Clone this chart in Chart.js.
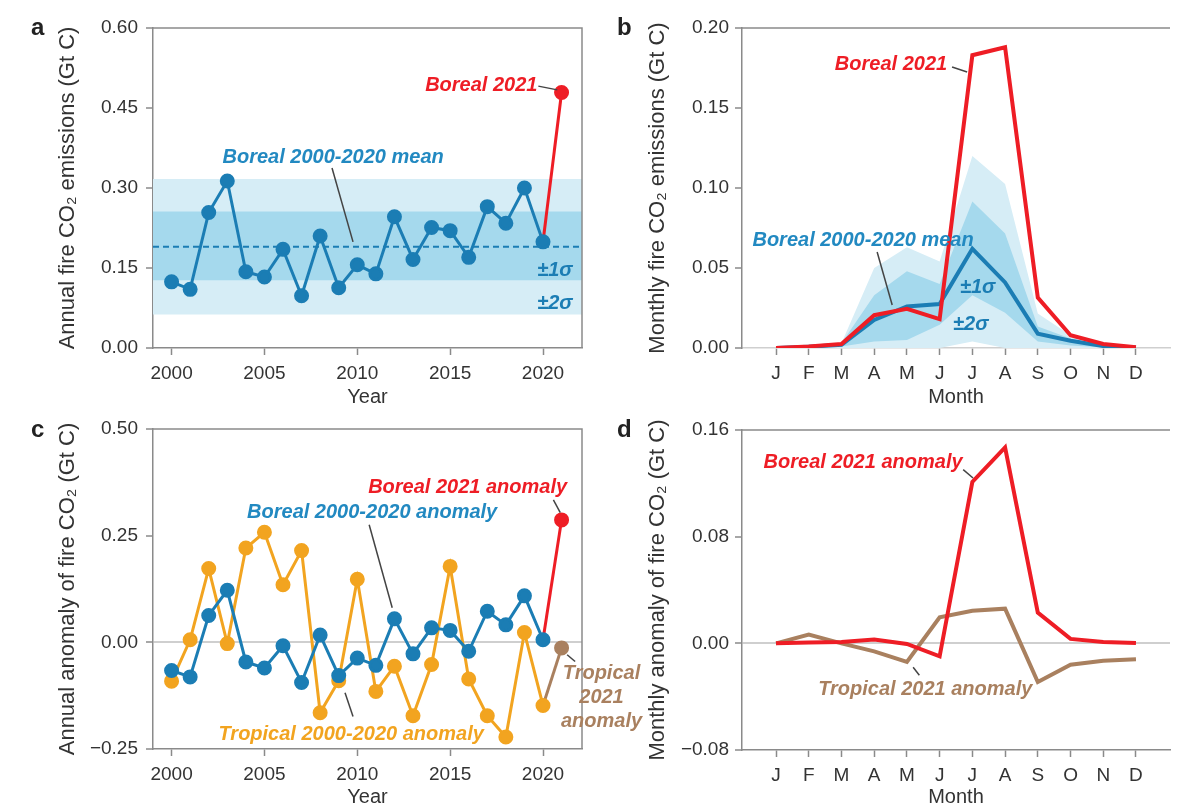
<!DOCTYPE html>
<html>
<head>
<meta charset="utf-8">
<script src="https://cdn.jsdelivr.net/npm/chart.js@4.4.0/dist/chart.umd.min.js"></script>
<style>
  html, body { margin: 0; background: #fff; overflow: hidden; width: 1182px; height: 808px; }
  canvas { position: absolute; }
</style>
</head>
<body>
<canvas id="chart-a" width="591" height="412" style="left:0;top:0"></canvas>
<canvas id="chart-b" width="591" height="412" style="left:591px;top:0"></canvas>
<canvas id="chart-d" width="591" height="416" style="left:591px;top:404px"></canvas>
<canvas id="chart-c" width="680" height="416" style="left:0;top:404px"></canvas>
<script>
// annual series (Gt C)
const years = [2000, 2001, 2002, 2003, 2004, 2005, 2006, 2007, 2008, 2009, 2010,
               2011, 2012, 2013, 2014, 2015, 2016, 2017, 2018, 2019, 2020];
const borealAnnual = [0.124, 0.110, 0.254, 0.313, 0.143, 0.133, 0.185, 0.098, 0.210, 0.113, 0.156,
                      0.139, 0.246, 0.166, 0.226, 0.220, 0.170, 0.265, 0.234, 0.300, 0.199];
const borealAnnual2021 = 0.479;
const borealMeanAnnual = 0.190;
const borealSigma1 = [0.127, 0.256];
const borealSigma2 = [0.063, 0.317];

const borealAnomaly = [-0.066, -0.081, 0.063, 0.122, -0.046, -0.060, -0.008, -0.094, 0.017, -0.078, -0.037,
                       -0.054, 0.055, -0.027, 0.034, 0.028, -0.021, 0.073, 0.041, 0.109, 0.006];
const borealAnomaly2021 = 0.287;
const tropicalAnomaly = [-0.091, 0.006, 0.173, -0.003, 0.221, 0.258, 0.135, 0.215, -0.165, -0.090, 0.148,
                         -0.115, -0.056, -0.172, -0.052, 0.178, -0.086, -0.172, -0.222, 0.023, -0.148];
const tropicalAnomaly2021 = -0.013;

// monthly series (Gt C)
const months = ['J', 'F', 'M', 'A', 'M', 'J', 'J', 'A', 'S', 'O', 'N', 'D'];
const boreal2021Monthly = [0.000, 0.001, 0.0025, 0.0205, 0.0245, 0.018, 0.183, 0.188, 0.0315, 0.008, 0.0025, 0.0005];
const borealMeanMonthly = [0.000, 0.0008, 0.002, 0.0175, 0.026, 0.0275, 0.062, 0.041, 0.009, 0.0045, 0.0012, 0.0003];
const sigma1Upper = [0.000, 0.0005, 0.003, 0.033, 0.048, 0.040, 0.0915, 0.0715, 0.0135, 0.006, 0.0015, 0.0003];
const sigma1Lower = [0.000, 0.000, 0.001, 0.004, 0.005, 0.0145, 0.033, 0.022, 0.004, 0.0015, 0.0005, 0.000];
const sigma2Upper = [0.000, 0.001, 0.003, 0.050, 0.063, 0.054, 0.120, 0.1025, 0.0215, 0.008, 0.0025, 0.0004];
const sigma2Lower = [0.000, 0.000, 0.000, 0.000, 0.000, 0.000, 0.004, 0.000, 0.000, 0.000, 0.000, 0.000];
const borealAnomalyMonthly = [0.000, 0.0007, 0.001, 0.0028, -0.0005, -0.0098, 0.121, 0.147, 0.023, 0.0033, 0.001, 0.0002];
const tropicalAnomalyMonthly = [0.000, 0.0065, 0.000, -0.006, -0.014, 0.0195, 0.0245, 0.026, -0.029, -0.016, -0.013, -0.012];

// ticks and axis ranges
const yearTicks = [2000, 2005, 2010, 2015, 2020];
const monthTicks = [0, 1, 2, 3, 4, 5, 6, 7, 8, 9, 10, 11];
const ticksA = [0, 0.15, 0.30, 0.45, 0.60];
const ticksB = [0, 0.05, 0.10, 0.15, 0.20];
const ticksC = [-0.25, 0, 0.25, 0.50];
const ticksD = [-0.08, 0, 0.08, 0.16];
const yearRange = [1999, 2022.1];
const monthRange = [-1.04, 12.04];

const BLUE = '#1b7db4';
const BLUE_TEXT = '#2289c1';
const RED = '#ee1d25';
const ORANGE = '#f2a420';
const TAN = '#a9805f';
const BAND_LIGHT = '#d6edf6';
const BAND_MID = '#a5d9ed';
const AXIS = '#8a8a8a';
const ZERO = '#cfcfcf';
const NOTE_FONT = 'italic bold 20px "Liberation Sans", Arial, sans-serif';

Chart.defaults.font.family = '"Liberation Sans", Arial, Helvetica, sans-serif';
Chart.defaults.color = '#333';
Chart.defaults.animation = false;
Chart.defaults.plugins.legend.display = false;
Chart.defaults.plugins.tooltip.enabled = false;
Chart.defaults.elements.line.tension = 0;
Chart.defaults.elements.point.radius = 0;
Chart.defaults.elements.point.borderWidth = 0;

const pts = (xs, ys) => ys.map((v, i) => ({x: xs[i], y: v}));
const flat = v => [{x: yearRange[0], y: v}, {x: yearRange[1], y: v}];
const fmt = v => (v < 0 ? '\u2212' : '') + Math.abs(v).toFixed(2);

function xAxis(o) {
  return {
    type: 'linear',
    min: o.range[0],
    max: o.range[1],
    afterBuildTicks: s => { s.ticks = o.ticks.map(v => ({value: v})); },
    afterFit: s => { s.height = o.height; },
    ticks: {autoSkip: false, maxRotation: 0, padding: 7, font: {size: 19}, callback: o.label},
    grid: {drawOnChartArea: false, tickLength: 7, tickColor: AXIS, tickWidth: 1.5},
    border: {color: o.borderColor || AXIS, width: 1.5},
    title: {display: true, text: o.title, font: {size: 20}, padding: 0}
  };
}

function yAxis(o) {
  return {
    min: o.ticks[0],
    max: o.ticks[o.ticks.length - 1],
    afterBuildTicks: s => { s.ticks = o.ticks.map(v => ({value: v})); },
    afterFit: s => { s.width = o.width; },
    ticks: {padding: o.pad, font: {size: 19}, callback: fmt},
    grid: {
      drawOnChartArea: !!o.zeroLine,
      color: c => (o.zeroLine && c.tick && c.tick.value === 0) ? ZERO : 'rgba(0,0,0,0)',
      lineWidth: 2,
      tickLength: 7,
      tickColor: AXIS,
      tickWidth: 1.5
    },
    border: {color: AXIS, width: 1.5},
    title: {display: true, text: o.title, font: {size: 22}, padding: 0}
  };
}

// frame lines, panel letter, text notes and their leader lines
function decorations(o) {
  return {
    id: 'decorations',
    afterDraw(chart) {
      const {ctx, chartArea: a, scales: {x, y}} = chart;
      ctx.save();
      ctx.strokeStyle = AXIS;
      ctx.lineWidth = 1.5;
      ctx.beginPath();
      ctx.moveTo(a.left, a.top);
      ctx.lineTo(a.right, a.top);
      if (o.boxed) ctx.lineTo(a.right, a.bottom);
      ctx.stroke();

      ctx.strokeStyle = '#444';
      ctx.lineWidth = 1.5;
      o.leaders.forEach(l => {
        ctx.beginPath();
        ctx.moveTo(x.getPixelForValue(l[0]), y.getPixelForValue(l[1]));
        ctx.lineTo(x.getPixelForValue(l[2]), y.getPixelForValue(l[3]));
        ctx.stroke();
      });

      ctx.font = NOTE_FONT;
      ctx.textBaseline = 'middle';
      o.notes.forEach(n => {
        ctx.fillStyle = n.color;
        ctx.textAlign = n.align || 'center';
        ctx.fillText(n.text, x.getPixelForValue(n.x), y.getPixelForValue(n.y));
      });

      ctx.font = 'bold 24px "Liberation Sans", Arial, sans-serif';
      ctx.fillStyle = '#222';
      ctx.textAlign = 'left';
      ctx.textBaseline = 'alphabetic';
      ctx.fillText(o.letter[0], o.letter[1], o.letter[2]);
      ctx.restore();
    }
  };
}

// a: annual boreal emissions
new Chart(document.getElementById('chart-a'), {
  type: 'line',
  data: {
    datasets: [
      {data: pts(years, borealAnnual), borderColor: BLUE, backgroundColor: BLUE, borderWidth: 3, pointRadius: 6},
      {data: [{x: 2020, y: borealAnnual[20]}, {x: 2021, y: borealAnnual2021}], borderColor: RED, backgroundColor: RED,
       borderWidth: 3, pointRadius: [0, 6]},
      {data: flat(borealMeanAnnual), borderColor: BLUE, borderWidth: 2, borderDash: [6, 4]},
      {data: flat(borealSigma1[1]), borderWidth: 0, fill: 5, backgroundColor: BAND_MID},
      {data: flat(borealSigma2[1]), borderWidth: 0, fill: 6, backgroundColor: BAND_LIGHT},
      {data: flat(borealSigma1[0]), borderWidth: 0},
      {data: flat(borealSigma2[0]), borderWidth: 0}
    ]
  },
  options: {
    responsive: false,
    layout: {padding: {left: 55, top: 28, right: 9, bottom: 3}},
    scales: {
      x: xAxis({range: yearRange, ticks: yearTicks, height: 61, title: 'Year', label: v => String(v)}),
      y: yAxis({ticks: ticksA, width: 98, pad: 8, title: 'Annual fire CO\u2082 emissions (Gt C)'})
    }
  },
  plugins: [decorations({
    boxed: true,
    letter: ['a', 31, 35],
    leaders: [[2019.75, 0.491, 2020.77, 0.484], [2008.64, 0.3375, 2009.77, 0.199]],
    notes: [
      {text: 'Boreal 2021', x: 2019.7, y: 0.493, color: RED, align: 'right'},
      {text: 'Boreal 2000-2020 mean', x: 2008.7, y: 0.358, color: BLUE_TEXT},
      {text: '\u00b11\u03c3', x: 2020.64, y: 0.146, color: BLUE},
      {text: '\u00b12\u03c3', x: 2020.64, y: 0.084, color: BLUE}
    ]
  })]
});

// b: monthly boreal emissions
new Chart(document.getElementById('chart-b'), {
  type: 'line',
  data: {
    datasets: [
      {data: pts(monthTicks, boreal2021Monthly), borderColor: RED, borderWidth: 4},
      {data: pts(monthTicks, borealMeanMonthly), borderColor: BLUE, borderWidth: 4},
      {data: pts(monthTicks, sigma1Upper), borderWidth: 0, fill: 4, backgroundColor: BAND_MID},
      {data: pts(monthTicks, sigma2Upper), borderWidth: 0, fill: 5, backgroundColor: BAND_LIGHT},
      {data: pts(monthTicks, sigma1Lower), borderWidth: 0},
      {data: pts(monthTicks, sigma2Lower), borderWidth: 0}
    ]
  },
  options: {
    responsive: false,
    layout: {padding: {left: 54, top: 28, right: 12, bottom: 3}},
    scales: {
      x: xAxis({range: monthRange, ticks: monthTicks, height: 61, title: 'Month', borderColor: ZERO,
                label: v => months[v]}),
      y: yAxis({ticks: ticksB, width: 97, pad: 6, title: 'Monthly fire CO\u2082 emissions (Gt C)'})
    }
  },
  plugins: [decorations({
    boxed: false,
    letter: ['b', 26, 35],
    leaders: [[5.38, 0.1756, 5.84, 0.1725], [3.09, 0.060, 3.55, 0.0269]],
    notes: [
      {text: 'Boreal 2021', x: 5.23, y: 0.177, color: RED, align: 'right'},
      {text: 'Boreal 2000-2020 mean', x: 2.66, y: 0.0675, color: BLUE_TEXT},
      {text: '\u00b11\u03c3', x: 6.16, y: 0.038, color: BLUE},
      {text: '\u00b12\u03c3', x: 5.95, y: 0.015, color: BLUE}
    ]
  })]
});

// c: annual anomalies, boreal and tropical (wider canvas so the side note fits)
new Chart(document.getElementById('chart-c'), {
  type: 'line',
  data: {
    datasets: [
      {data: pts(years, borealAnomaly), borderColor: BLUE, backgroundColor: BLUE, borderWidth: 3, pointRadius: 6},
      {data: [{x: 2020, y: borealAnomaly[20]}, {x: 2021, y: borealAnomaly2021}], borderColor: RED, backgroundColor: RED,
       borderWidth: 3, pointRadius: [0, 6]},
      {data: pts(years, tropicalAnomaly), borderColor: ORANGE, backgroundColor: ORANGE, borderWidth: 3, pointRadius: 6},
      {data: [{x: 2020, y: tropicalAnomaly[20]}, {x: 2021, y: tropicalAnomaly2021}], borderColor: TAN, backgroundColor: TAN,
       borderWidth: 3, pointRadius: [0, 6]}
    ]
  },
  options: {
    responsive: false,
    layout: {padding: {left: 55, top: 25, right: 98, bottom: 11}},
    scales: {
      x: xAxis({range: yearRange, ticks: yearTicks, height: 60, title: 'Year', label: v => String(v)}),
      y: yAxis({ticks: ticksC, width: 98, pad: 8, zeroLine: true, title: 'Annual anomaly of fire CO\u2082 (Gt C)'})
    }
  },
  plugins: [decorations({
    boxed: true,
    letter: ['c', 31, 33],
    leaders: [[2020.56, 0.334, 2020.93, 0.304], [2010.64, 0.2756, 2011.88, 0.0812],
              [2009.34, -0.118, 2009.77, -0.174], [2021.3, -0.029, 2021.73, -0.045]],
    notes: [
      {text: 'Boreal 2021 anomaly', x: 2021.3, y: 0.362, color: RED, align: 'right'},
      {text: 'Boreal 2000-2020 anomaly', x: 2010.8, y: 0.304, color: BLUE_TEXT},
      {text: 'Tropical 2000-2020 anomaly', x: 2009.67, y: -0.216, color: ORANGE},
      {text: 'Tropical', x: 2023.15, y: -0.0735, color: TAN},
      {text: '2021', x: 2023.15, y: -0.130, color: TAN},
      {text: 'anomaly', x: 2023.15, y: -0.186, color: TAN}
    ]
  })]
});

// d: monthly anomalies in 2021
new Chart(document.getElementById('chart-d'), {
  type: 'line',
  data: {
    datasets: [
      {data: pts(monthTicks, borealAnomalyMonthly), borderColor: RED, borderWidth: 4},
      {data: pts(monthTicks, tropicalAnomalyMonthly), borderColor: TAN, borderWidth: 4}
    ]
  },
  options: {
    responsive: false,
    layout: {padding: {left: 54, top: 26, right: 12, bottom: 11}},
    scales: {
      x: xAxis({range: monthRange, ticks: monthTicks, height: 59, title: 'Month', label: v => months[v]}),
      y: yAxis({ticks: ticksD, width: 97, pad: 6, zeroLine: true, title: 'Monthly anomaly of fire CO\u2082 (Gt C)'})
    }
  },
  plugins: [decorations({
    boxed: false,
    letter: ['d', 26, 33],
    leaders: [[5.72, 0.1303, 6.02, 0.124], [4.19, -0.018, 4.38, -0.024]],
    notes: [
      {text: 'Boreal 2021 anomaly', x: 2.66, y: 0.1355, color: RED},
      {text: 'Tropical 2021 anomaly', x: 4.56, y: -0.0347, color: TAN}
    ]
  })]
});
</script>
</body>
</html>
